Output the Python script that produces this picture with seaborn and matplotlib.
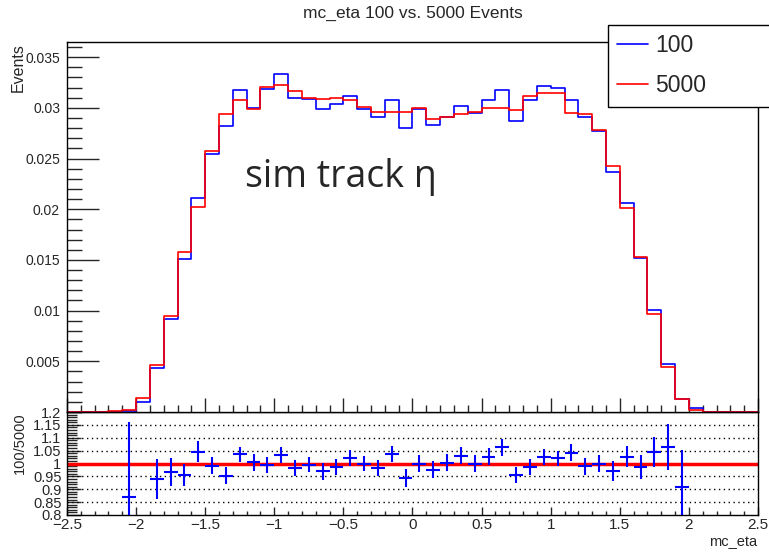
import numpy as np
import pandas as pd
import seaborn as sns
import matplotlib.pyplot as plt
from matplotlib.lines import Line2D
from matplotlib.ticker import MultipleLocator, FixedLocator

# bins of mc_eta, width 0.1 from -2.5 to 2.5
bin_edges = [round(-2.5 + 0.1 * i, 2) for i in range(51)]
bin_centers = [round(-2.45 + 0.1 * i, 3) for i in range(50)]

# normalised entries per bin
events_100 = [0, 0, 0, 0.00003, 0.0001, 0.00103, 0.0043, 0.0092, 0.0151, 0.0211,
              0.0255, 0.0282, 0.0318, 0.0300, 0.0319, 0.0333, 0.0310, 0.0309, 0.0299, 0.0304,
              0.0312, 0.0299, 0.0291, 0.0308, 0.0280, 0.0299, 0.0283, 0.0291, 0.0302, 0.0295,
              0.0308, 0.0318, 0.0287, 0.0308, 0.0322, 0.0320, 0.0308, 0.0291, 0.0277, 0.0237,
              0.0206, 0.0152, 0.0101, 0.0047, 0.0013, 0.00044, 0.00001, 0, 0, 0]
events_5000 = [0, 0, 0, 0.00005, 0.00024, 0.0014, 0.0046, 0.0095, 0.0158, 0.0202,
               0.0257, 0.0294, 0.0308, 0.0299, 0.0321, 0.0323, 0.0317, 0.0310, 0.0309, 0.0310,
               0.0308, 0.0301, 0.0296, 0.0296, 0.0296, 0.0300, 0.0289, 0.0291, 0.0294, 0.0296,
               0.0300, 0.0300, 0.0298, 0.0312, 0.0315, 0.0315, 0.0295, 0.0294, 0.0278, 0.0243,
               0.0201, 0.0153, 0.0097, 0.0044, 0.0013, 0.00017, 0.00004, 0, 0, 0]

# ratio 100/5000 and its error, per bin (nan = empty bin)
nan = np.nan
ratio = [nan, nan, nan, nan, 0.868, 0.74, 0.940, 0.967, 0.957, 1.045,
         0.992, 0.953, 1.035, 1.005, 0.993, 1.033, 0.983, 0.996, 0.970, 0.986,
         1.021, 0.999, 0.983, 1.038, 0.944, 1.000, 0.976, 1.003, 1.031, 1.000,
         1.026, 1.064, 0.957, 0.986, 1.026, 1.020, 1.042, 0.990, 1.000, 0.972,
         1.026, 0.987, 1.045, 1.064, 0.907, 2.59, nan, nan, nan, nan]
ratio_err = [nan, nan, nan, nan, 0.292, 0.05, 0.079, 0.056, 0.043, 0.041,
             0.034, 0.033, 0.030, 0.033, 0.031, 0.030, 0.030, 0.030, 0.033, 0.031,
             0.031, 0.030, 0.031, 0.031, 0.036, 0.034, 0.034, 0.033, 0.033, 0.034,
             0.033, 0.033, 0.031, 0.031, 0.032, 0.030, 0.033, 0.033, 0.034, 0.039,
             0.041, 0.046, 0.059, 0.090, 0.144, 1.2, nan, nan, nan, nan]

top_ticks = [0.005, 0.01, 0.015, 0.02, 0.025, 0.03, 0.035]
top_tick_labels = ['0.005', '0.01', '0.015', '0.02', '0.025', '0.03', '0.035']
ratio_ticks = [0.8, 0.85, 0.9, 0.95, 1.0, 1.05, 1.1, 1.15, 1.2]
ratio_tick_labels = ['0.8', '0.85', '0.9', '0.95', '1', '1.05', '1.1', '1.15', '1.2']
eta_ticks = [-2.5, -2.0, -1.5, -1.0, -0.5, 0.0, 0.5, 1.0, 1.5, 2.0, 2.5]
eta_tick_labels = ['\u22122.5', '\u22122', '\u22121.5', '\u22121', '\u22120.5', '0',
                   '0.5', '1', '1.5', '2', '2.5']

BLUE = '#0000ff'
RED = '#ff0000'

hist_df = pd.DataFrame({'eta': bin_centers, 'n100': events_100, 'n5000': events_5000})

sns.set_style('white')
plt.rcParams['font.family'] = ['Liberation Sans', 'DejaVu Sans']
plt.rcParams['axes.linewidth'] = 1.0
plt.rcParams['axes.edgecolor'] = 'black'

W, H = 769, 552
fig = plt.figure(figsize=(W / 100, H / 100), dpi=100)
ax_rat = fig.add_axes([67 / W, 1 - 515 / H, (758 - 67) / W, (515 - 412) / H])
ax_top = fig.add_axes([67 / W, 1 - 412 / H, (758 - 67) / W, (412 - 42) / H])
ax_top.set_zorder(2)
ax_top.set_facecolor('white')

# upper pad: the two distributions
sns.histplot(data=hist_df, x='eta', weights='n100', bins=bin_edges, element='step',
             fill=False, color=BLUE, linewidth=1.2, ax=ax_top)
sns.histplot(data=hist_df, x='eta', weights='n5000', bins=bin_edges, element='step',
             fill=False, color=RED, linewidth=1.2, ax=ax_top)
ax_top.set_xlim(-2.5, 2.5)
ax_top.set_ylim(0, 0.0365)
ax_top.set_xlabel('')
ax_top.set_ylabel('')
ax_top.yaxis.set_major_locator(FixedLocator(top_ticks))
ax_top.set_yticklabels(top_tick_labels, fontsize=10)
ax_top.yaxis.set_minor_locator(MultipleLocator(0.001))
ax_top.xaxis.set_major_locator(FixedLocator(eta_ticks))
ax_top.xaxis.set_minor_locator(MultipleLocator(0.1))
ax_top.tick_params(axis='x', which='both', direction='in', bottom=True, labelbottom=False)
ax_top.tick_params(axis='x', which='major', length=10, width=1)
ax_top.tick_params(axis='x', which='minor', length=5, width=1)
ax_top.tick_params(axis='y', which='both', direction='in', left=True, width=1, pad=5)
ax_top.tick_params(axis='y', which='major', length=23)
ax_top.tick_params(axis='y', which='minor', length=11)
ax_top.text((245 - 67) / 691, (412 - 187) / 370, 'sim track η', transform=ax_top.transAxes,
            fontsize=27, family=['Open Sans', 'DejaVu Sans'], ha='left', va='baseline')

# lower pad: ratio
for y in [0.85, 0.9, 0.95, 1.05, 1.1, 1.15]:
    ax_rat.axhline(y, color='black', linestyle=(0, (1, 2.5)), linewidth=1, zorder=1)
ax_rat.axhline(1.0, color=RED, linewidth=2.5, zorder=2)
ax_rat.errorbar(bin_centers, ratio, xerr=0.05, yerr=ratio_err, fmt='none',
                ecolor=BLUE, elinewidth=1.5, capsize=0, zorder=3)
ax_rat.set_xlim(-2.5, 2.5)
ax_rat.set_ylim(0.8, 1.2)
ax_rat.yaxis.set_major_locator(FixedLocator(ratio_ticks))
ax_rat.set_yticklabels(ratio_tick_labels, fontsize=10.5)
ax_rat.yaxis.set_minor_locator(MultipleLocator(0.01))
ax_rat.xaxis.set_major_locator(FixedLocator(eta_ticks))
ax_rat.set_xticklabels(eta_tick_labels)
ax_rat.xaxis.set_minor_locator(MultipleLocator(0.1))
ax_rat.tick_params(axis='x', which='both', direction='in', bottom=True, labelsize=11,
                   pad=2, width=1)
ax_rat.tick_params(axis='x', which='major', length=6)
ax_rat.tick_params(axis='x', which='minor', length=3)
ax_rat.tick_params(axis='y', which='both', direction='in', left=True, width=1, pad=4)
ax_rat.tick_params(axis='y', which='major', length=10)
ax_rat.tick_params(axis='y', which='minor', length=7)

# labels and title
fig.text((67 + 758) / 2 / W, 1 - 13 / H, 'mc_eta 100 vs. 5000 Events', ha='center',
         va='center', fontsize=12.5)
fig.text(18 / W, 1 - 43 / H, 'Events', rotation=90, ha='center', va='top', fontsize=11.5)
fig.text(20 / W, 1 - 412 / H, '100/5000', rotation=90, ha='center', va='top', fontsize=10.5)
fig.text(757 / W, 1 - 542 / H, 'mc_eta', ha='right', va='center', fontsize=10.5)

# legend box in the top right corner
handles = [Line2D([], [], color=BLUE, linewidth=1.2), Line2D([], [], color=RED, linewidth=1.2)]
leg = fig.legend(handles, ['100', '5000'], loc='upper left',
                 bbox_to_anchor=(608 / W, 1 - 106 / H, 0.3, 81 / H), mode='expand',
                 fontsize=16.5, frameon=True, fancybox=False, framealpha=1,
                 edgecolor='black', borderpad=0.4, labelspacing=0.75,
                 handlelength=1.35, handletextpad=0.3, borderaxespad=0)
leg.get_frame().set_linewidth(1.0)
leg.set_zorder(5)

fig.savefig('out.png', dpi=100)
